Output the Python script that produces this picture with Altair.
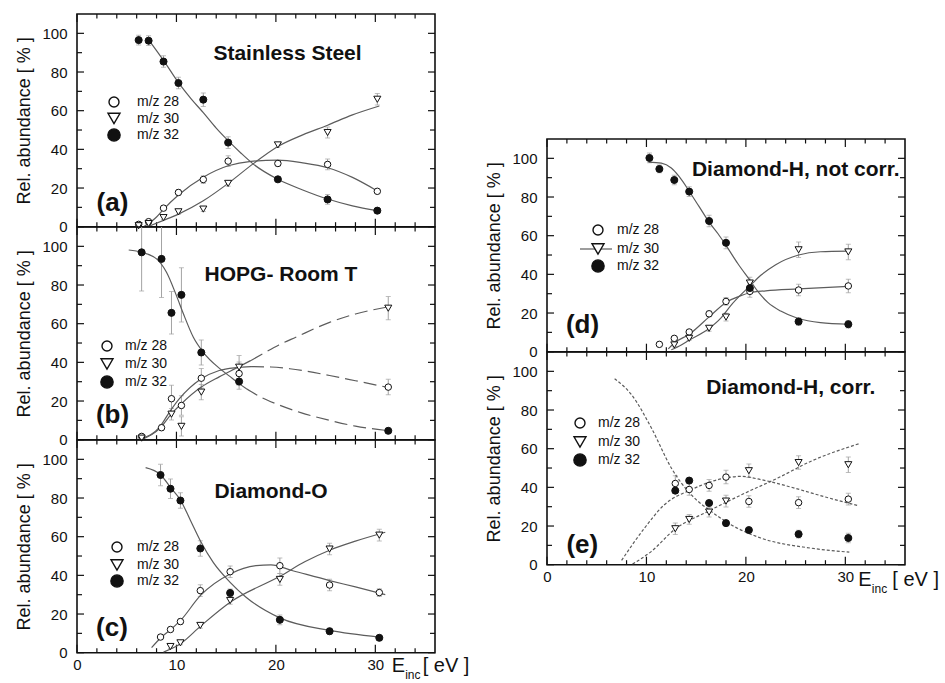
import altair as alt
import pandas as pd

FONT = "Liberation Sans"
INK = "#111111"
CURVE = "#5c5c5c"
ERR = "#a3a3a3"
W = 358
H = 212.7

SERIES = ["m/z 28", "m/z 30", "m/z 32"]
X_MAJOR = [0, 10, 20, 30]
X_MINOR = [2, 4, 6, 8, 12, 14, 16, 18, 22, 24, 26, 28, 32, 34]
Y_MAJOR = [0, 20, 40, 60, 80, 100]
Y_MINOR = [10, 30, 50, 70, 90]

# ---------------- (a) Stainless Steel ----------------
A_X = [6.2, 7.2, 8.7, 10.2, 12.7, 15.2, 20.2, 25.2, 30.2]
A_Y28 = [1.2, 2.6, 9.6, 17.7, 24.4, 33.9, 32.7, 32.2, 18.3]
A_E28 = [0.8, 1.0, 1.2, 1.5, 2.0, 2.8, 1.5, 2.8, 1.0]
A_Y30 = [0.5, 1.6, 4.7, 7.7, 9.1, 22.4, 42.3, 48.7, 65.9]
A_E30 = [0.5, 0.8, 1.0, 1.2, 1.2, 1.5, 1.2, 2.8, 3.0]
A_Y32 = [96.5, 96.2, 85.4, 74.3, 65.7, 43.5, 24.5, 14.1, 8.3]
A_E32 = [2.5, 2.5, 3.0, 3.0, 3.5, 3.0, 1.5, 2.5, 1.0]
A_C28_X = [6.7, 8.0, 8.7, 10.2, 12.7, 15.2, 17.5, 20.2, 22.7, 25.2, 27.7, 30.2]
A_C28_Y = [0.0, 5.0, 9.0, 16.4, 25.6, 31.5, 33.8, 34.4, 33.0, 30.5, 25.5, 18.5]
A_C30_X = [7.1, 8.7, 10.2, 12.7, 15.2, 17.7, 20.2, 22.7, 25.2, 27.7, 30.4]
A_C30_Y = [0.0, 3.3, 6.5, 13.4, 22.4, 32.5, 41.5, 47.5, 52.5, 57.8, 62.4]
A_C32_X = [7.3, 8.7, 10.2, 11.5, 12.7, 14.0, 15.2, 16.5, 17.7, 20.2, 22.7, 25.2, 27.7, 30.2]
A_C32_Y = [96.0, 86.0, 74.5, 66.0, 59.0, 51.0, 44.5, 38.0, 32.5, 24.5, 19.0, 14.3, 10.8, 8.3]

# ---------------- (b) HOPG- Room T ----------------
B_X28 = [6.5, 8.5, 9.5, 10.5, 12.5, 16.3, 31.3]
B_Y28 = [1.7, 6.2, 21.2, 17.7, 31.8, 34.2, 27.2]
B_E28 = [1.0, 1.5, 7.0, 5.0, 5.0, 6.0, 4.0]
B_X30 = [6.5, 9.5, 10.5, 12.5, 16.3, 31.3]
B_Y30 = [0.8, 13.2, 6.9, 24.6, 37.5, 68.0]
B_E30 = [1.0, 3.0, 5.0, 4.0, 6.0, 6.0]
B_X32 = [6.5, 8.5, 9.5, 10.5, 12.5, 16.3, 31.3]
B_Y32 = [96.9, 93.5, 65.6, 74.9, 45.1, 30.1, 4.6]
B_E32 = [20.0, 20.0, 11.0, 14.0, 6.5, 4.0, 1.0]
B_C28_X = [6.5, 8.3, 9.3, 10.3, 12.5, 14.3, 16.0, 17.5]
B_C28_Y = [0.5, 6.5, 14.3, 21.2, 31.5, 35.8, 37.3, 37.8]
B_C28D_X = [17.5, 19.5, 21.4, 25.4, 28.0, 31.1]
B_C28D_Y = [37.8, 37.6, 36.7, 33.2, 30.5, 27.2]
B_C30_X = [6.5, 8.3, 9.5, 10.5, 12.5, 14.3, 16.0, 17.5]
B_C30_Y = [0.0, 5.7, 13.4, 18.6, 27.2, 32.5, 37.0, 41.0]
B_C30D_X = [17.5, 18.7, 20.3, 22.0, 25.4, 28.0, 31.1]
B_C30D_Y = [41.0, 44.5, 49.0, 53.0, 60.7, 65.0, 68.5]
B_C32_X = [5.2, 6.5, 8.0, 9.0, 10.0, 10.7, 11.7, 12.7, 14.3, 15.3, 16.3, 17.0]
B_C32_Y = [98.1, 96.9, 93.5, 86.6, 74.5, 65.1, 53.0, 45.2, 37.0, 33.0, 29.0, 26.5]
B_C32D_X = [17.0, 18.5, 20.0, 22.5, 25.4, 28.0, 31.1]
B_C32D_Y = [26.5, 22.0, 18.6, 14.0, 10.0, 7.0, 4.8]

# ---------------- (c) Diamond-O ----------------
C_X28 = [8.4, 9.4, 10.4, 12.4, 15.4, 20.4, 25.4, 30.4]
C_Y28 = [8.1, 12.0, 16.1, 32.1, 41.9, 45.0, 35.0, 31.1]
C_E28 = [1.0, 1.0, 1.5, 3.0, 3.0, 4.0, 3.0, 2.0]
C_X30 = [9.4, 10.4, 12.4, 15.4, 20.4, 25.4, 30.4]
C_Y30 = [3.2, 5.1, 14.1, 27.0, 37.9, 53.6, 60.8]
C_E30 = [1.0, 1.0, 1.5, 2.0, 3.0, 3.0, 3.0]
C_X32 = [8.4, 9.4, 10.4, 12.4, 15.4, 20.4, 25.4, 30.4]
C_Y32 = [91.9, 84.8, 78.7, 53.9, 30.9, 17.0, 11.1, 7.7]
C_E32 = [5.5, 5.0, 4.0, 4.0, 2.0, 2.5, 1.5, 1.0]
C_C28_X = [7.5, 8.4, 9.4, 10.4, 12.4, 15.4, 18.0, 19.5, 21.7, 25.4, 28.0, 31.0]
C_C28_Y = [2.6, 7.6, 11.9, 16.6, 29.5, 40.7, 45.0, 45.4, 42.4, 37.3, 34.0, 30.0]
C_C30_X = [8.7, 10.4, 12.4, 15.4, 20.4, 22.9, 25.4, 28.0, 31.0]
C_C30_Y = [0.3, 4.6, 13.6, 26.1, 39.5, 47.0, 53.0, 57.7, 62.3]
C_C32_X = [6.9, 8.4, 9.4, 10.4, 11.4, 12.4, 13.7, 15.4, 17.0, 20.4, 25.4, 30.4]
C_C32_Y = [95.7, 92.0, 85.5, 79.0, 68.5, 57.9, 46.7, 36.4, 28.7, 18.0, 11.5, 8.1]

# ---------------- (d) Diamond-H, not corr. ----------------
D_X28 = [11.3, 12.8, 14.3, 16.3, 18.0, 20.4, 25.3, 30.3]
D_Y28 = [3.8, 6.9, 10.2, 19.6, 26.0, 31.2, 31.9, 34.0]
D_E28 = [1.0, 1.0, 1.0, 1.5, 2.0, 3.0, 3.0, 3.5]
D_X30 = [12.8, 14.3, 16.3, 18.0, 20.4, 25.3, 30.3]
D_Y30 = [3.5, 6.9, 12.1, 17.9, 35.5, 52.7, 51.6]
D_E30 = [1.0, 1.0, 1.5, 2.0, 3.0, 4.0, 4.0]
D_X32 = [10.3, 11.3, 12.8, 14.3, 16.3, 18.0, 20.4, 25.3, 30.3]
D_Y32 = [100.2, 94.5, 88.8, 82.8, 67.6, 56.3, 32.9, 15.6, 14.2]
D_E32 = [2.5, 2.0, 2.5, 2.5, 3.0, 3.0, 2.5, 2.0, 2.0]
D_C28_X = [12.2, 12.8, 14.3, 16.3, 18.0, 19.5, 20.4, 22.0, 25.3, 30.3]
D_C28_Y = [1.5, 4.5, 9.0, 18.0, 25.5, 29.0, 30.5, 31.5, 32.5, 33.8]
D_C30_X = [12.5, 13.5, 14.3, 16.3, 17.5, 18.5, 19.5, 20.4, 21.5, 23.0, 25.3, 27.5, 30.3]
D_C30_Y = [1.0, 3.5, 6.0, 12.0, 17.5, 24.0, 29.5, 34.0, 39.5, 45.0, 50.0, 51.7, 52.0]
D_C32_X = [10.2, 11.5, 12.5, 13.3, 14.3, 15.3, 16.3, 17.2, 18.0, 19.2, 20.4, 21.3, 22.2, 23.5, 25.2, 27.5, 30.3]
D_C32_Y = [98.0, 97.5, 95.0, 90.5, 83.0, 75.0, 67.0, 61.0, 55.0, 45.5, 37.0, 30.5, 25.5, 21.0, 17.3, 15.0, 14.2]

# ---------------- (e) Diamond-H, corr. ----------------
E_X = [12.9, 14.3, 16.3, 18.0, 20.3, 25.3, 30.3]
E_Y28 = [42.0, 38.9, 41.0, 45.3, 32.7, 32.1, 33.9]
E_E28 = [4.0, 3.0, 3.0, 3.5, 3.0, 3.0, 3.0]
E_Y30 = [18.6, 23.4, 27.2, 32.9, 48.6, 52.8, 51.7]
E_E30 = [3.0, 2.5, 2.5, 3.0, 3.5, 3.5, 4.0]
E_Y32 = [38.3, 43.5, 31.9, 21.5, 17.9, 15.8, 13.8]
E_E32 = [1.0, 1.0, 1.0, 1.0, 1.0, 2.0, 2.5]
E_C28_X = [7.5, 9.8, 11.8, 14.5, 17.2, 19.5, 21.5, 24.9, 28.0, 31.2]
E_C28_Y = [2.2, 18.9, 31.0, 38.8, 44.0, 45.7, 44.0, 39.6, 35.0, 30.7]
E_C30_X = [8.6, 10.5, 12.8, 16.2, 19.9, 23.2, 26.5, 31.4]
E_C30_Y = [0.3, 6.9, 18.1, 27.6, 37.0, 44.8, 53.4, 62.6]
E_C32_X = [6.8, 8.5, 10.5, 12.5, 14.5, 16.5, 18.5, 21.5, 26.5, 30.4]
E_C32_Y = [96.2, 87.9, 70.7, 50.0, 36.2, 27.6, 20.7, 13.8, 8.6, 6.5]

TITLES = ["Stainless Steel", "HOPG- Room T", "Diamond-O", "Diamond-H, not corr.", "Diamond-H, corr."]
TAGS = ["(a)", "(b)", "(c)", "(d)", "(e)"]

XS = alt.Scale(domain=[0, 36], nice=False, zero=False)
YS = alt.Scale(domain=[0, 110], nice=False, zero=False)

SYM = {"m/z 28": ("circle", "white", 42, 100),
       "m/z 30": ("triangle-down", "white", 50, 144),
       "m/z 32": ("circle", INK, 50, 150)}

DUMMY = pd.DataFrame({"k": [0]})


def pts(xs, ys, es, s):
    return pd.DataFrame({"x": xs, "y": ys,
                         "lo": [y - e for y, e in zip(ys, es)],
                         "hi": [y + e for y, e in zip(ys, es)],
                         "series": s})


def crv(xs, ys, s):
    return pd.DataFrame({"x": xs, "y": ys, "series": s})


def x_axis(show):
    if not show:
        return None
    return alt.Axis(values=X_MAJOR, ticks=False, domain=False, grid=False,
                    labelFontSize=15, labelPadding=5, labelFlush=False,
                    labelOverlap=False, labelColor=INK, labelFont=FONT, title=None)


Y_AXIS = alt.Axis(values=Y_MAJOR, ticks=False, domain=False, grid=False,
                  labelFontSize=15, labelPadding=10, labelFlush=False,
                  labelOverlap=False, labelColor=INK, labelFont=FONT,
                  title="Rel. abundance [ % ]", titleFontSize=18,
                  titleFontWeight="normal", titlePadding=8, titleColor=INK,
                  titleFont=FONT)


def panel(pframes, cframes, title, tpos, tag, gpos, leg, show_x, e_pos=None, leg_line=False):
    xa = x_axis(show_x)

    def X(f):
        return alt.X(f, scale=XS, axis=xa)

    def Y(f):
        return alt.Y(f, scale=YS, axis=Y_AXIS)

    layers = []
    # inward ticks on all four sides
    for vals, L in ((X_MAJOR, 8), (X_MINOR, 4.5)):
        df = pd.DataFrame({"x": vals})
        layers.append(alt.Chart(df).mark_rule(color=INK, strokeWidth=1.2).encode(
            x=X("x:Q"), y=alt.value(H), y2=alt.value(H - L)))
        layers.append(alt.Chart(df).mark_rule(color=INK, strokeWidth=1.2).encode(
            x=X("x:Q"), y=alt.value(0), y2=alt.value(L)))
    for vals, L in ((Y_MAJOR, 7), (Y_MINOR, 5)):
        df = pd.DataFrame({"y": vals})
        layers.append(alt.Chart(df).mark_rule(color=INK, strokeWidth=1.2).encode(
            y=Y("y:Q"), x=alt.value(0), x2=alt.value(L)))
        layers.append(alt.Chart(df).mark_rule(color=INK, strokeWidth=1.2).encode(
            y=Y("y:Q"), x=alt.value(W), x2=alt.value(W - L)))

    allp = pd.concat(pframes, ignore_index=True)
    layers.append(alt.Chart(allp).mark_rule(color=ERR, strokeWidth=1, clip=True).encode(
        x=X("x:Q"), y=Y("lo:Q"), y2="hi:Q"))
    for f in ("lo", "hi"):
        layers.append(alt.Chart(allp).mark_tick(color=ERR, orient="horizontal", size=5,
                                                thickness=1, clip=True).encode(
            x=X("x:Q"), y=Y(f + ":Q")))

    for cdf, dash in cframes:
        m = dict(color=CURVE, strokeWidth=1.2, interpolate="monotone", clip=True)
        if dash:
            m["strokeDash"] = dash
        layers.append(alt.Chart(cdf).mark_line(**m).encode(
            x=X("x:Q"), y=Y("y:Q"), detail="series:N"))

    for df in pframes:
        s = df["series"].iloc[0]
        shape, fill, size, _ = SYM[s]
        layers.append(alt.Chart(df).mark_point(
            shape=shape, filled=True, fill=fill, stroke=INK, strokeWidth=1,
            size=size, opacity=1).encode(x=X("x:Q"), y=Y("y:Q")))

    # legend
    sx, tx, rows = leg
    if leg_line:
        layers.append(alt.Chart(DUMMY).mark_rule(color=CURVE, strokeWidth=1.2).encode(
            x=alt.value(sx - 18), x2=alt.value(sx + 14), y=alt.value(rows[1])))
    for s, r in zip(SERIES, rows):
        shape, fill, _, lsize = SYM[s]
        layers.append(alt.Chart(DUMMY).mark_point(
            shape=shape, filled=True, fill=fill, stroke=INK, strokeWidth=1.4,
            size=lsize, opacity=1).encode(x=alt.value(sx), y=alt.value(r)))
        layers.append(alt.Chart(DUMMY).mark_text(
            align="left", baseline="middle", fontSize=14, font=FONT, color=INK).encode(
            x=alt.value(tx), y=alt.value(r), text=alt.value(s)))

    layers.append(alt.Chart(DUMMY).mark_text(
        align="center", baseline="middle", fontSize=21, fontWeight="bold",
        font=FONT, color=INK).encode(
        x=alt.value(tpos[0]), y=alt.value(tpos[1]), text=alt.value(title)))
    layers.append(alt.Chart(DUMMY).mark_text(
        align="center", baseline="middle", fontSize=26, fontWeight="bold",
        font=FONT, color=INK).encode(
        x=alt.value(gpos[0]), y=alt.value(gpos[1]), text=alt.value(tag)))

    if e_pos is not None:
        ex, ey, gap = e_pos
        layers.append(alt.Chart(DUMMY).mark_text(
            align="left", baseline="alphabetic", fontSize=20, font=FONT, color=INK).encode(
            x=alt.value(ex), y=alt.value(ey), text=alt.value("E")))
        layers.append(alt.Chart(DUMMY).mark_text(
            align="left", baseline="alphabetic", fontSize=12, font=FONT, color=INK).encode(
            x=alt.value(ex + 13.5), y=alt.value(ey + 7), text=alt.value("inc")))
        layers.append(alt.Chart(DUMMY).mark_text(
            align="left", baseline="alphabetic", fontSize=20, font=FONT, color=INK).encode(
            x=alt.value(ex + gap), y=alt.value(ey), text=alt.value("[ eV ]")))

    return alt.layer(*layers).properties(width=W, height=H)


pa = panel([pts(A_X, A_Y28, A_E28, SERIES[0]), pts(A_X, A_Y30, A_E30, SERIES[1]),
            pts(A_X, A_Y32, A_E32, SERIES[2])],
           [(pd.concat([crv(A_C28_X, A_C28_Y, SERIES[0]), crv(A_C30_X, A_C30_Y, SERIES[1]),
                        crv(A_C32_X, A_C32_Y, SERIES[2])]), None)],
           TITLES[0], (210.5, 39.5), TAGS[0], (35.5, 189), (37, 60, [88, 104.5, 121]), False)

pb = panel([pts(B_X28, B_Y28, B_E28, SERIES[0]), pts(B_X30, B_Y30, B_E30, SERIES[1]),
            pts(B_X32, B_Y32, B_E32, SERIES[2])],
           [(pd.concat([crv(B_C28_X, B_C28_Y, SERIES[0]), crv(B_C30_X, B_C30_Y, SERIES[1]),
                        crv(B_C32_X, B_C32_Y, SERIES[2])]), None),
            (pd.concat([crv(B_C28D_X, B_C28D_Y, SERIES[0]), crv(B_C30D_X, B_C30D_Y, SERIES[1]),
                        crv(B_C32D_X, B_C32D_Y, SERIES[2])]), [13, 6])],
           TITLES[1], (204, 47.5), TAGS[1], (35.5, 187.5), (30, 48, [119, 137, 155]), False)

pc = panel([pts(C_X28, C_Y28, C_E28, SERIES[0]), pts(C_X30, C_Y30, C_E30, SERIES[1]),
            pts(C_X32, C_Y32, C_E32, SERIES[2])],
           [(pd.concat([crv(C_C28_X, C_C28_Y, SERIES[0]), crv(C_C30_X, C_C30_Y, SERIES[1]),
                        crv(C_C32_X, C_C32_Y, SERIES[2])]), None)],
           TITLES[2], (194, 51.7), TAGS[2], (35, 187.5), (40, 60, [107, 125, 141]), True,
           e_pos=(314.7, 232, 31))

pd_ = panel([pts(D_X28, D_Y28, D_E28, SERIES[0]), pts(D_X30, D_Y30, D_E30, SERIES[1]),
             pts(D_X32, D_Y32, D_E32, SERIES[2])],
            [(pd.concat([crv(D_C28_X, D_C28_Y, SERIES[0]), crv(D_C30_X, D_C30_Y, SERIES[1]),
                         crv(D_C32_X, D_C32_Y, SERIES[2])]), None)],
            TITLES[3], (248.8, 31), TAGS[3], (35.5, 186), (51, 70, [91, 110, 127]), False,
            leg_line=True)

pe = panel([pts(E_X, E_Y28, E_E28, SERIES[0]), pts(E_X, E_Y30, E_E30, SERIES[1]),
            pts(E_X, E_Y32, E_E32, SERIES[2])],
           [(pd.concat([crv(E_C28_X, E_C28_Y, SERIES[0]), crv(E_C30_X, E_C30_Y, SERIES[1]),
                        crv(E_C32_X, E_C32_Y, SERIES[2])]), [3, 2])],
           TITLES[4], (243.8, 35.8), TAGS[4], (35.3, 193.3), (33, 51, [71, 90, 108]), True,
           e_pos=(311.3, 234, 34))

spacer = alt.Chart(DUMMY).mark_point(opacity=0).encode(
    x=alt.value(W / 2), y=alt.value(60)).properties(
    width=W, height=124.3, view=alt.ViewBackground(stroke="transparent"))

left = alt.vconcat(pa, pb, pc, spacing=0, bounds="flush")
right = alt.vconcat(spacer, pd_, pe, spacing=0, bounds="flush")

chart = alt.hconcat(left, right, spacing=14).properties(
    padding={"left": 15, "top": 12, "right": 0, "bottom": 0}
).configure_view(stroke=INK, strokeWidth=1.6).configure_text(font=FONT)

chart.save("out.html", embed_options={"renderer": "svg", "actions": False})
